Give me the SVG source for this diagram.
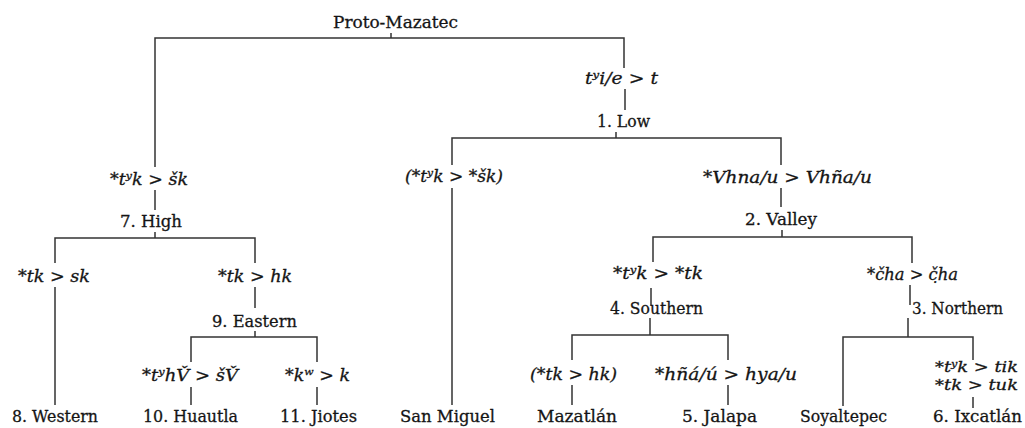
<svg xmlns="http://www.w3.org/2000/svg" width="1025" height="428" viewBox="0 0 1025 428">
<style>
.bg{fill:#fff}
text{font-family:"DejaVu Serif","Liberation Serif",serif;font-size:17px;fill:#151515;stroke:#151515;stroke-width:0.3}
.i{font-style:italic}
.s{font-size:15px}
.c{fill:none;stroke:#333;stroke-width:1.5}
</style>
<rect class="bg" width="1025" height="428"/>
<g id="connectors">
<path class="c" d="M391 33V38M155 167V38H624V68M625 89V110M616 132V138M452 165V138H781V165M452 188V405M781 188V207M782 230V237M653 262V237H912V263M155 190V210M155 232V238M55 263V238H255V263M55 287V405M255 287V308M255 331V337M191 362V337H317V362M191 387V405M317 387V405M651 288V305M650 318V335M572 360V335H728V360M572 385V405M728 385V405M910 285V305M908 318V337M843 406V337H973V360M973 397V408"/>
</g>
<g id="proto"><text x="333" y="28" textLength="125" lengthAdjust="spacingAndGlyphs">Proto-Mazatec</text></g>
<g id="chg-low"><text class="i" x="585" y="84" textLength="73" lengthAdjust="spacingAndGlyphs">tʸi/e &gt; t</text></g>
<g id="low"><text x="597" y="127" textLength="53" lengthAdjust="spacingAndGlyphs">1. Low</text></g>
<g id="chg-high"><text class="i" x="110" y="185" textLength="78" lengthAdjust="spacingAndGlyphs">*tʸk &gt; šk</text></g>
<g id="high"><text x="120" y="227" textLength="62" lengthAdjust="spacingAndGlyphs">7. High</text></g>
<g id="chg-sanmiguel"><text class="i" x="405" y="182" textLength="98" lengthAdjust="spacingAndGlyphs">(*tʸk &gt; *šk)</text></g>
<g id="chg-valley"><text class="i" x="703" y="183" textLength="169" lengthAdjust="spacingAndGlyphs">*Vhna/u &gt; Vhña/u</text></g>
<g id="valley"><text x="745" y="225" textLength="72" lengthAdjust="spacingAndGlyphs">2. Valley</text></g>
<g id="chg-western"><text class="i" x="18" y="282" textLength="72" lengthAdjust="spacingAndGlyphs">*tk &gt; sk</text></g>
<g id="chg-eastern"><text class="i" x="218" y="282" textLength="74" lengthAdjust="spacingAndGlyphs">*tk &gt; hk</text></g>
<g id="eastern"><text x="212" y="327" textLength="85" lengthAdjust="spacingAndGlyphs">9. Eastern</text></g>
<g id="chg-southern"><text class="i" x="613" y="279" textLength="90" lengthAdjust="spacingAndGlyphs">*tʸk &gt; *tk</text></g>
<g id="southern"><text x="610" y="314" textLength="93" lengthAdjust="spacingAndGlyphs">4. Southern</text></g>
<g id="chg-northern"><text class="i" x="867" y="280" textLength="91" lengthAdjust="spacingAndGlyphs">*čha &gt; č̣ha</text></g>
<g id="northern"><text x="912" y="314" textLength="91" lengthAdjust="spacingAndGlyphs">3. Northern</text></g>
<g id="chg-huautla"><text class="i" x="142" y="381" textLength="96" lengthAdjust="spacingAndGlyphs">*tʸhV̌ &gt; šV̌</text></g>
<g id="chg-jiotes"><text class="i" x="285" y="381" textLength="65" lengthAdjust="spacingAndGlyphs">*kʷ &gt; k</text></g>
<g id="chg-mazatlan"><text class="i" x="530" y="380" textLength="87" lengthAdjust="spacingAndGlyphs">(*tk &gt; hk)</text></g>
<g id="chg-jalapa"><text class="i" x="655" y="380" textLength="142" lengthAdjust="spacingAndGlyphs">*hñá/ú &gt; hya/u</text></g>
<g id="chg-ixcatlan"><text class="i s" x="935" y="372" textLength="83" lengthAdjust="spacingAndGlyphs">*tʸk &gt; tik</text><text class="i s" x="935" y="390" textLength="83" lengthAdjust="spacingAndGlyphs">*tk &gt; tuk</text></g>
<g id="western"><text x="12" y="422" textLength="86" lengthAdjust="spacingAndGlyphs">8. Western</text></g>
<g id="huautla"><text x="143" y="422" textLength="95" lengthAdjust="spacingAndGlyphs">10. Huautla</text></g>
<g id="jiotes"><text x="280" y="422" textLength="77" lengthAdjust="spacingAndGlyphs">11. Jiotes</text></g>
<g id="sanmiguel"><text x="400" y="422" textLength="95" lengthAdjust="spacingAndGlyphs">San Miguel</text></g>
<g id="mazatlan"><text x="537" y="422" textLength="80" lengthAdjust="spacingAndGlyphs">Mazatlán</text></g>
<g id="jalapa"><text x="682" y="422" textLength="75" lengthAdjust="spacingAndGlyphs">5. Jalapa</text></g>
<g id="soyaltepec"><text x="800" y="422" textLength="87" lengthAdjust="spacingAndGlyphs">Soyaltepec</text></g>
<g id="ixcatlan"><text x="933" y="422" textLength="89" lengthAdjust="spacingAndGlyphs">6. Ixcatlán</text></g>
</svg>
